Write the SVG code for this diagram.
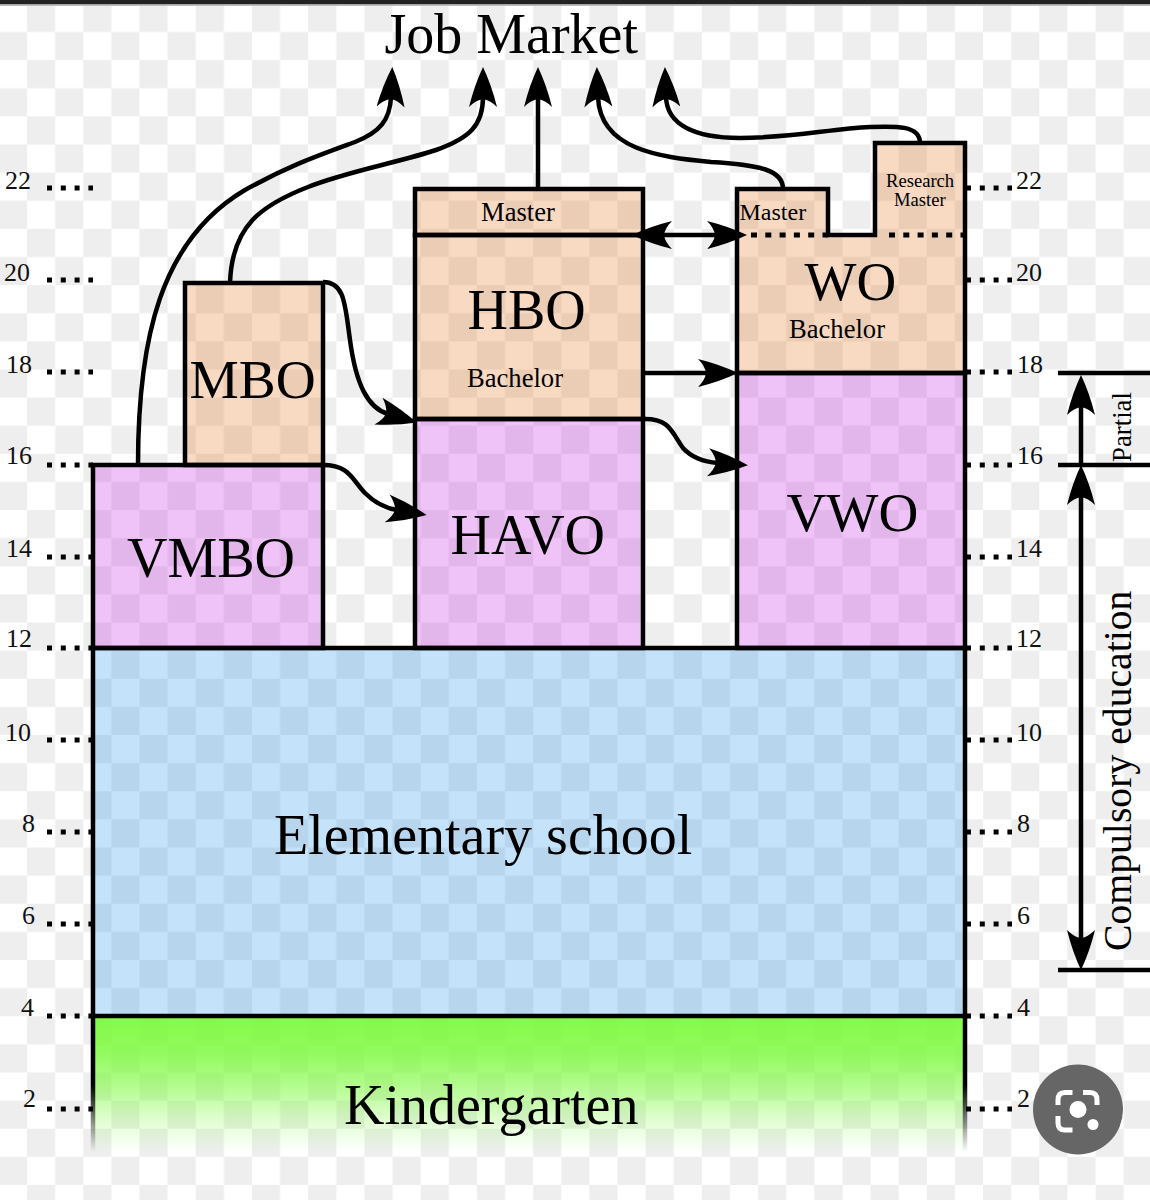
<svg xmlns="http://www.w3.org/2000/svg" width="1150" height="1200" viewBox="0 0 1150 1200">
<style>
text{font-family:"Liberation Serif","Times New Roman",serif;fill:#000}
.big{font-size:56px}
.mid{font-size:26.6px}
.num{font-size:26px;fill:#111}
.box{stroke:#000;stroke-width:4.5;stroke-linejoin:miter}
.peach{fill:rgba(226,97,0,.24)}
.purple{fill:rgba(188,0,226,.24)}
.blue{fill:rgba(13,134,238,.24)}
.line{fill:none;stroke:#000;stroke-width:4.5}
.arrow{marker-end:url(#head)}
.both{marker-start:url(#headStart);marker-end:url(#head)}
.dots{fill:none;stroke:#000;stroke-width:5}
</style>
<defs>
<pattern id="check" patternUnits="userSpaceOnUse" x="27" y="3.9" width="56.24" height="56.24">
<rect width="56.24" height="56.24" fill="#fff"/>
<rect width="28.12" height="28.12" fill="#eee"/>
<rect x="28.12" y="28.12" width="28.12" height="28.12" fill="#eee"/>
</pattern>
<marker id="head" markerUnits="userSpaceOnUse" markerWidth="44" markerHeight="32" viewBox="0 -16 44 32" refX="10" refY="0" orient="auto">
<path d="M0,-14 Q22,-8.500 40,0 Q22,8.500 0,14 Q7,7 8,0 Q7,-7 0,-14 Z" fill="#000"/>
</marker>
<marker id="headStart" markerUnits="userSpaceOnUse" markerWidth="44" markerHeight="32" viewBox="-44 -16 44 32" refX="-10" refY="0" orient="auto">
<path d="M0,-14 Q-22,-8.500 -40,0 Q-22,8.500 0,14 Q-7,7 -8,0 Q-7,-7 0,-14 Z" fill="#000"/>
</marker>
<linearGradient id="kgFill" gradientUnits="userSpaceOnUse" x1="0" y1="1016" x2="0" y2="1152">
<stop offset="0" stop-color="#7cfa3c" stop-opacity=".93"/>
<stop offset=".25" stop-color="#7cfa3c" stop-opacity=".84"/>
<stop offset=".5" stop-color="#7cfa3c" stop-opacity=".6"/>
<stop offset=".75" stop-color="#7cfa3c" stop-opacity=".25"/>
<stop offset="1" stop-color="#7cfa3c" stop-opacity="0"/>
</linearGradient>
<linearGradient id="kgEdge" gradientUnits="userSpaceOnUse" x1="0" y1="1016" x2="0" y2="1152">
<stop offset="0" stop-color="#000"/>
<stop offset=".5" stop-color="#000"/>
<stop offset="1" stop-color="#000" stop-opacity="0"/>
</linearGradient>
</defs>

<rect width="1150" height="1200" fill="url(#check)"/>
<rect width="1150" height="4.5" fill="#222"/>
<rect y="4.5" width="1150" height="1.5" fill="#bbb"/>

<g id="kindergarten">
<rect x="93" y="1016" width="872" height="136" fill="url(#kgFill)"/>
<path d="M93,1016V1152M965,1016V1152" fill="none" stroke="url(#kgEdge)" stroke-width="4.5"/>
<text class="big" x="344" y="1124">Kindergarten</text>
</g>
<g id="elementary">
<rect class="box blue" x="93" y="648" width="872" height="368"/>
<text class="big" x="274" y="854">Elementary school</text>
</g>
<g id="vmbo">
<rect class="box purple" x="93" y="465" width="230" height="183"/>
<text class="big" x="127" y="577">VMBO</text>
</g>
<g id="mbo">
<rect class="box peach" x="185" y="283" width="138" height="182"/>
<text x="189.500" y="398" font-size="55.400">MBO</text>
</g>
<g id="havo">
<rect class="box purple" x="415" y="419" width="228" height="229"/>
<text class="big" x="450.500" y="554">HAVO</text>
</g>
<g id="hbo">
<rect class="box peach" x="415" y="235" width="228" height="184"/>
<text class="big" x="467.500" y="329">HBO</text>
<text class="mid" x="467" y="387">Bachelor</text>
</g>
<g id="hbo-master">
<rect class="box peach" x="415" y="189" width="228" height="46"/>
<text class="mid" x="481" y="221">Master</text>
</g>
<g id="vwo">
<rect class="box purple" x="737" y="373" width="228" height="275"/>
<text x="786.500" y="531" font-size="55.200">VWO</text>
</g>
<g id="wo">
<path class="box peach" d="M737,373V189H828V235H875V143H965V373Z"/>
<path class="dots" stroke-dasharray="6 8.3" d="M751,235H828M889,235H965"/>
<text x="804.500" y="300" font-size="55">WO</text>
<text class="mid" x="789" y="338">Bachelor</text>
<text x="739.500" y="220" font-size="24">Master</text>
<text x="886" y="187" font-size="18.6">Research</text>
<text x="894" y="206" font-size="18.6">Master</text>
</g>

<g id="connectors">
<path class="line arrow" d="M138,465C138,340 160,240 245,190C290,165 320,155 355,142C380,132 390,120 391,97"/>
<path class="line arrow" d="M230,283C232,225 262,205 308,187C345,172 400,162 436,150C470,138 483,125 483,97"/>
<path class="line arrow" d="M538,189V97"/>
<path class="line arrow" d="M783,189C783,170 760,165 711,162C660,157 600,150 598,97"/>
<path class="line arrow" d="M920,143C920,125 895,126 870,127C830,129 790,138 740,138C695,138 667,125 666,97"/>
<path class="line arrow" d="M323,282C345,282 345,305 350,340C356,385 368,408 388,414"/>
<path class="line arrow" d="M323,465C350,465 352,480 365,493C375,503 385,508 397,510"/>
<path class="line arrow" d="M643,419C670,418 672,433 683,448C692,458 705,462 718,463"/>
<path class="line arrow" d="M643,373H708"/>
<path class="line both" d="M662,235H717"/>
</g>

<g id="job-market"><text class="big" x="384.500" y="53">Job Market</text></g>

<g id="age-ticks">
<path class="dots" stroke-dasharray="5 8.8" d="M47,188H93M47,280H93M47,372H93M47,465H93M47,557H93M47,648H93M47,740H93M47,832H93M47,924H93M47,1016H93M47,1109H93"/>
<path class="dots" stroke-dasharray="5 8.8" d="M966,188H1012M966,280H1012M966,372H1012M966,465H1012M966,557H1012M966,648H1012M966,740H1012M966,832H1012M966,924H1012M966,1016H1012M966,1109H1012"/>
<text class="num" x="5" y="189">22</text><text class="num" x="4" y="281">20</text><text class="num" x="6" y="373">18</text><text class="num" x="6" y="464">16</text><text class="num" x="6" y="557">14</text><text class="num" x="6" y="647">12</text><text class="num" x="5" y="741">10</text><text class="num" x="22" y="832">8</text><text class="num" x="22" y="924">6</text><text class="num" x="21" y="1016">4</text><text class="num" x="23" y="1107">2</text>
<text class="num" x="1016" y="189">22</text><text class="num" x="1016" y="281">20</text><text class="num" x="1017" y="373">18</text><text class="num" x="1017" y="464">16</text><text class="num" x="1016" y="557">14</text><text class="num" x="1016" y="647">12</text><text class="num" x="1016" y="741">10</text><text class="num" x="1017" y="832">8</text><text class="num" x="1017" y="924">6</text><text class="num" x="1017" y="1016">4</text><text class="num" x="1017" y="1107">2</text>
</g>

<g id="education-spans">
<path class="line" d="M1058,373H1150M1058,465H1150M1058,970H1150"/>
<path class="line arrow" d="M1081,465V405"/>
<path class="line both" d="M1081,495V940"/>
<text x="1131" y="462" font-size="26.8" transform="rotate(-90 1131 462)">Partial</text>
<text x="1131" y="951" font-size="39.7" transform="rotate(-90 1131 951)">Compulsory education</text>
</g>

<g id="lens">
<circle cx="1078" cy="1109.5" r="45" fill="#666"/>
<path d="M1058,1105V1100Q1058,1092.5 1065,1092.5H1072.5M1083,1092.5H1090Q1097,1092.5 1097,1100V1105M1058,1116V1123Q1058,1130 1065,1130H1072.5" fill="none" stroke="#fff" stroke-width="5"/>
<circle cx="1078" cy="1109.5" r="8.5" fill="#fff"/>
<circle cx="1093" cy="1124.5" r="5.5" fill="#fff"/>
</g>
</svg>
